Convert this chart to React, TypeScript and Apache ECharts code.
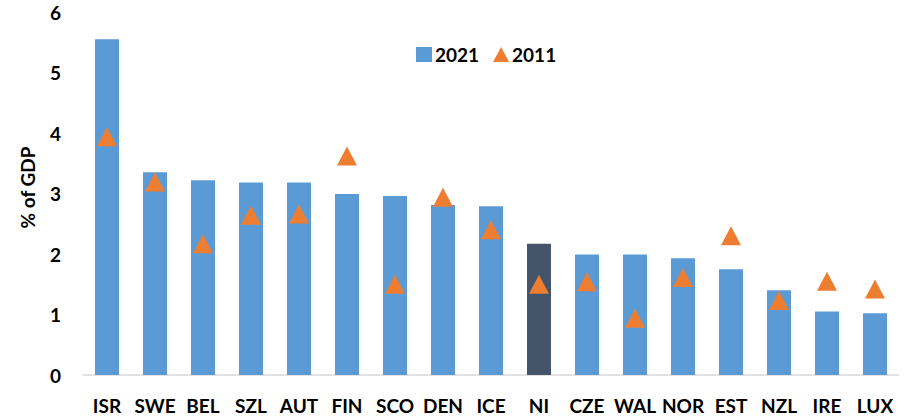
import React, { useEffect, useRef } from "react";
import * as echarts from "echarts";

const categories = ["ISR", "SWE", "BEL", "SZL", "AUT", "FIN", "SCO", "DEN", "ICE", "NI", "CZE", "WAL", "NOR", "EST", "NZL", "IRE", "LUX"];
const values2021 = [5.55, 3.35, 3.22, 3.18, 3.18, 2.99, 2.96, 2.81, 2.79, 2.17, 1.99, 1.99, 1.93, 1.75, 1.40, 1.05, 1.02];
const values2011 = [3.94, 3.19, 2.17, 2.64, 2.66, 3.62, 1.50, 2.94, 2.40, 1.50, 1.54, 0.94, 1.61, 2.30, 1.23, 1.55, 1.42];
const yTicks = [0, 1, 2, 3, 4, 5, 6];
const highlight = "NI";

const BLUE = "#5B9BD5";
const DARK = "#44546A";
const ORANGE = "#ED7D31";
const FONT = "Lato, 'Open Sans', sans-serif";

export default function App() {
  const ref = useRef<HTMLDivElement>(null);
  useEffect(() => {
    document.body.style.margin = "0";
    if (!ref.current) return;
    const chart = echarts.init(ref.current, null, { renderer: "svg" });
    chart.setOption({
      animation: false,
      textStyle: { fontFamily: FONT },
      grid: { left: 83, right: 9, top: 12, bottom: 43, containLabel: false },
      legend: {
        left: 411,
        top: 40,
        itemGap: 14,
        itemWidth: 16,
        itemHeight: 15,
        textStyle: { fontFamily: FONT, fontWeight: "bold", fontSize: 19, color: "#000", padding: [0, 0, 0, -2] },
        data: [
          { name: "2021", icon: "rect" },
          { name: "2011", icon: "triangle" },
        ],
      },
      xAxis: {
        type: "category",
        data: categories,
        axisTick: { show: false },
        axisLine: { lineStyle: { color: "#D9D9D9", width: 1.5 } },
        axisLabel: { color: "#000", fontWeight: "bold", fontSize: 19, fontFamily: FONT, margin: 21, interval: 0 },
      },
      yAxis: {
        type: "value",
        min: yTicks[0],
        max: yTicks[yTicks.length - 1],
        interval: 1,
        splitLine: { show: false },
        axisLine: { show: false },
        axisTick: { show: false },
        axisLabel: { color: "#000", fontWeight: "bold", fontSize: 19, fontFamily: FONT, margin: 22 },
        name: "% of GDP",
        nameLocation: "middle",
        nameRotate: 90,
        nameGap: 46,
        nameTextStyle: { color: "#000", fontWeight: "bold", fontSize: 19, fontFamily: FONT, padding: [0, 0, 0, 12] },
      },
      series: [
        {
          name: "2021",
          type: "bar",
          barWidth: 24,
          itemStyle: { color: BLUE },
          data: values2021.map((v, i) => ({
            value: v,
            itemStyle: { color: categories[i] === highlight ? DARK : BLUE },
          })),
        },
        {
          name: "2011",
          type: "scatter",
          symbol: "triangle",
          symbolSize: [20, 19],
          itemStyle: { color: ORANGE, opacity: 1 },
          data: values2011,
          z: 5,
        },
      ],
    });
    return () => chart.dispose();
  }, []);
  return <div ref={ref} style={{ width: 908, height: 418 }} />;
}
